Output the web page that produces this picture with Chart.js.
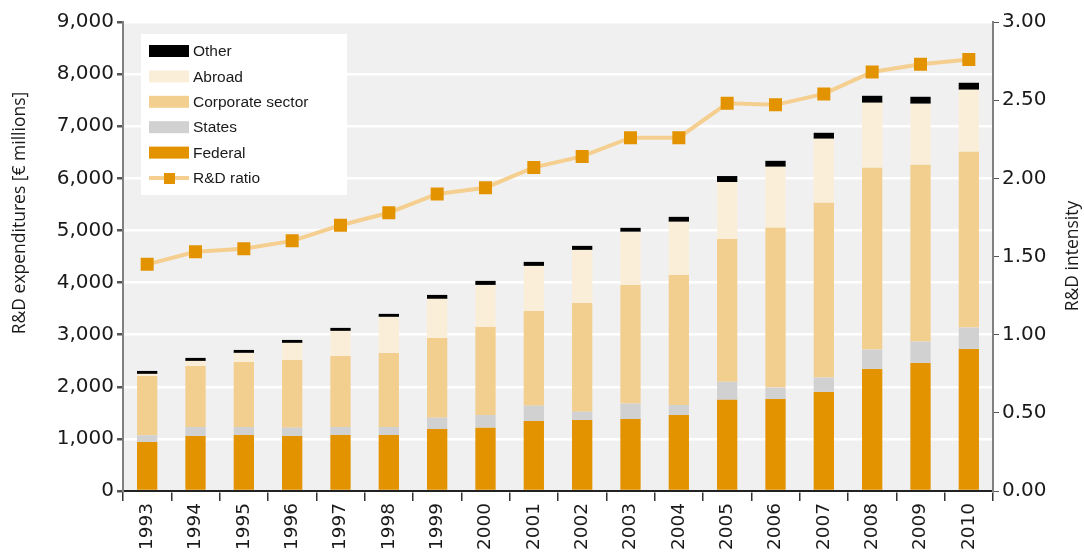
<!DOCTYPE html>
<html>
<head>
<meta charset="utf-8">
<script src="https://cdn.jsdelivr.net/npm/chart.js@4.4.1/dist/chart.umd.min.js"></script>
<style>
html,body{margin:0;padding:0;background:#fff;}
#wrap{width:1084px;height:552px;}
</style>
</head>
<body>
<div id="wrap"><canvas id="c" width="1084" height="552"></canvas></div>
<script>
const years = ['1993','1994','1995','1996','1997','1998','1999','2000','2001','2002','2003','2004','2005','2006','2007','2008','2009','2010'];
const federal   = [941,1056,1075,1056,1075,1075,1190,1216,1344,1363,1382,1459,1750,1766,1901,2343,2458,2727];
const states    = [128,173,154,160,154,154,218,243,294,160,295,192,345,218,275,370,409,409];
const corporate = [1139,1171,1248,1299,1363,1421,1530,1690,1818,2087,2278,2496,2740,3066,3354,3489,3393,3373];
const abroad    = [39,96,173,327,480,691,749,806,864,1017,1018,1018,1094,1171,1229,1248,1171,1191];
const other     = [57,58,57,57,58,58,76,77,77,77,77,96,115,115,115,134,134,134];
const rdRatio   = [1.45,1.53,1.55,1.60,1.70,1.78,1.90,1.94,2.07,2.14,2.26,2.26,2.48,2.47,2.54,2.68,2.73,2.76];
const leftTicks = [0,1000,2000,3000,4000,5000,6000,7000,8000,9000];
const rightTicks = [0,0.5,1,1.5,2,2.5,3];
const leftTitle = 'R&D expenditures [€ millions]';
const rightTitle = 'R&D intensity';

const C_FED='#e39300', C_STATE='#d1d1d1', C_CORP='#f3cf8f', C_ABR='#faeed9', C_OTH='#000000', C_LINE='#f5cf90';

const bgPlugin = {
  id:'bg',
  beforeDraw(chart){
    const a = chart.chartArea, ctx = chart.ctx;
    ctx.save();
    ctx.fillStyle = '#f0f0f0';
    ctx.fillRect(a.left, a.top, a.right - a.left, a.bottom - a.top);
    ctx.restore();
  }
};

const titlesPlugin = {
  id:'titles',
  afterDraw(chart){
    const ctx = chart.ctx;
    ctx.save();
    ctx.font = '17.5px "Open Sans", sans-serif';
    ctx.fillStyle = '#1a1a1a';
    ctx.textAlign = 'center';
    ctx.textBaseline = 'middle';
    ctx.save(); ctx.translate(20, 213); ctx.rotate(-Math.PI/2); ctx.fillText(leftTitle, 0, 0); ctx.restore();
    ctx.save(); ctx.translate(1073, 256); ctx.rotate(-Math.PI/2); ctx.fillText(rightTitle, 0, 0); ctx.restore();
    ctx.restore();
  }
};

const legendPlugin = {
  id:'customLegend',
  afterDraw(chart){
    const ctx = chart.ctx;
    const x0 = 141, y0 = 34, w = 206, h = 161;
    ctx.save();
    ctx.fillStyle = '#ffffff';
    ctx.fillRect(x0, y0, w, h);
    const ds = chart.data.datasets;
    const items = [ds[4], ds[3], ds[2], ds[1], ds[0], ds[5]];
    ctx.font = '15.5px "Liberation Sans", Arial, sans-serif';
    ctx.textBaseline = 'middle';
    items.forEach((d, i) => {
      const cy = 51 + i * 25.4;
      if (d.type === 'line') {
        ctx.strokeStyle = C_LINE; ctx.lineWidth = 4;
        ctx.beginPath(); ctx.moveTo(149, cy); ctx.lineTo(189, cy); ctx.stroke();
        ctx.fillStyle = C_FED; ctx.fillRect(164, cy - 5, 11, 11);
      } else {
        ctx.fillStyle = d.backgroundColor;
        ctx.fillRect(149, cy - 6, 40, 12);
      }
      ctx.fillStyle = '#1a1a1a';
      ctx.fillText(d.label, 193, cy + 1);
    });
    ctx.restore();
  }
};

const tickFont = {family:'"DejaVu Sans", sans-serif', size:20};
const xTickFont = {family:'"DejaVu Sans", sans-serif', size:18.5};

new Chart(document.getElementById('c'), {
  data: {
    labels: years,
    datasets: [
      {type:'bar', label:'Federal', data:federal, backgroundColor:C_FED, stack:'s', yAxisID:'y', order:1},
      {type:'bar', label:'States', data:states, backgroundColor:C_STATE, stack:'s', yAxisID:'y', order:1},
      {type:'bar', label:'Corporate sector', data:corporate, backgroundColor:C_CORP, stack:'s', yAxisID:'y', order:1},
      {type:'bar', label:'Abroad', data:abroad, backgroundColor:C_ABR, stack:'s', yAxisID:'y', order:1},
      {type:'bar', label:'Other', data:other, backgroundColor:C_OTH, stack:'s', yAxisID:'y', order:1},
      {type:'line', label:'R&D ratio', data:rdRatio, yAxisID:'y1', order:0,
       borderColor:C_LINE, borderWidth:4, tension:0,
       pointStyle:'rect', pointRadius:9.2, pointBackgroundColor:C_FED, pointBorderWidth:0, pointHoverRadius:9.2}
    ]
  },
  options: {
    responsive:false,
    animation:false,
    events:[],
    layout:{padding:{top:22, left:0, right:0, bottom:0}},
    datasets:{bar:{categoryPercentage:1, barPercentage:0.42}},
    plugins:{legend:{display:false}, tooltip:{enabled:false}},
    scales:{
      x:{
        stacked:true,
        offset:true,
        grid:{offset:true, drawOnChartArea:false, color:'#333', tickColor:'#333', tickLength:10, lineWidth:1.5},
        border:{color:'#222', width:2},
        ticks:{font:xTickFont, color:'#1a1a1a', maxRotation:90, minRotation:90, padding:2, autoSkip:false},
        afterFit(s){ s.height = 61; }
      },
      y:{
        stacked:true,
        position:'left',
        min:0, max:9000,
        afterBuildTicks(s){ s.ticks = leftTicks.map(v=>({value:v})); },
        grid:{color:'#ffffff', lineWidth:2.5, tickColor:'#555', tickLength:6, drawTicks:true},
        border:{color:'#808080', width:2},
        ticks:{font:tickFont, color:'#1a1a1a', padding:3, callback:v=>v.toLocaleString('en-US')},
        afterFit(s){ s.width = 123; }
      },
      y1:{
        position:'right',
        min:0, max:3,
        afterBuildTicks(s){ s.ticks = rightTicks.map(v=>({value:v})); },
        grid:{drawOnChartArea:false, tickColor:'#555', tickLength:6},
        border:{color:'#808080', width:2},
        ticks:{font:tickFont, color:'#1a1a1a', padding:3, callback:v=>Number(v).toFixed(2)},
        afterFit(s){ s.width = 91; }
      }
    }
  },
  plugins:[bgPlugin, legendPlugin, titlesPlugin]
});
</script>
</body>
</html>
